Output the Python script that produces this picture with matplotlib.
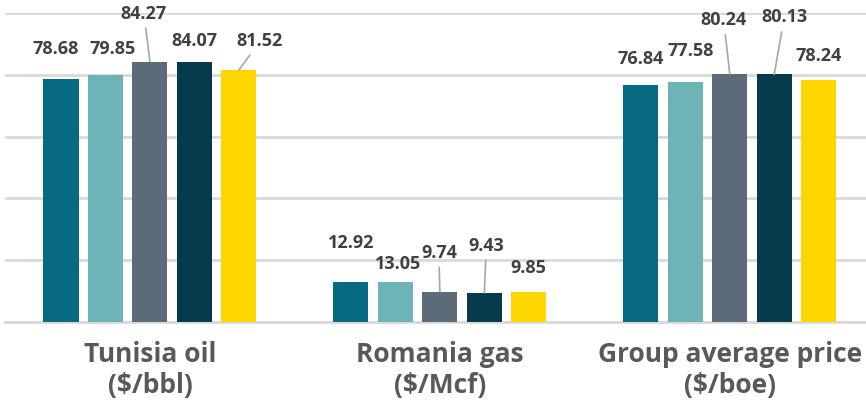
import matplotlib.pyplot as plt
import numpy as np

categories = ['Tunisia oil\n($/bbl)', 'Romania gas\n($/Mcf)', 'Group average price\n($/boe)']
series_colors = ['#076A80', '#6EB3B6', '#5B6B7A', '#053B4A', '#FFD600']

tunisia = [78.68, 79.85, 84.27, 84.07, 81.52]
romania = [12.92, 13.05, 9.74, 9.43, 9.85]
group = [76.84, 77.58, 80.24, 80.13, 78.24]
values = [tunisia, romania, group]

# label offsets from bar top (pixels), and whether a leader line is drawn
label_offsets = [
    [(-5, 30, False), (7, 26, False), (-6, 48, True), (0, 21, False), (21, 29, True)],
    [(0, 39, False), (3, 18, False), (-1, 39, True), (2, 47, True), (0, 24, False)],
    [(0, 26, False), (5, 31, False), (-6, 54, True), (10, 57, True), (0, 24, False)],
]

plt.rcParams['font.family'] = ['Open Sans', 'DejaVu Sans']

fig = plt.figure(figsize=(8.66, 4), dpi=100)
ax = fig.add_axes([5 / 866, 78 / 400, 861 / 866, 309 / 400])

pitch = 0.1534
width = 0.121
x = np.arange(len(categories))

for gi, vals in enumerate(values):
    for si, v in enumerate(vals):
        xc = x[gi] + (si - 2) * pitch
        ax.bar(xc, v, width=width, color=series_colors[si], zorder=3)
        dx, dy, lead = label_offsets[gi][si]
        ax.annotate(f'{v:.2f}', xy=(xc, v), xytext=(dx, dy), textcoords='offset pixels',
                    ha='center', va='center', fontsize=13, fontweight='bold', color='#404040',
                    arrowprops=dict(arrowstyle='-', color='#a6a6a6', lw=1.2,
                                    shrinkA=2, shrinkB=0) if lead else None,
                    zorder=4)

ax.set_ylim(0, 100)
ax.set_xlim(-0.5, 2.47)
ax.set_yticks(np.arange(0, 101, 20))
ax.yaxis.grid(True, color='#d9d9d9', linewidth=2, zorder=0)
ax.tick_params(axis='y', left=False, labelleft=False)
ax.tick_params(axis='x', bottom=False, pad=10)
ax.set_xticks(x)
ax.set_xticklabels(categories, fontsize=19, fontweight='bold', color='#595959', linespacing=1.2)
for s in ['top', 'right', 'left']:
    ax.spines[s].set_visible(False)
ax.spines['bottom'].set_color('#d9d9d9')
ax.spines['bottom'].set_linewidth(2)

fig.savefig('out.png', dpi=100)
